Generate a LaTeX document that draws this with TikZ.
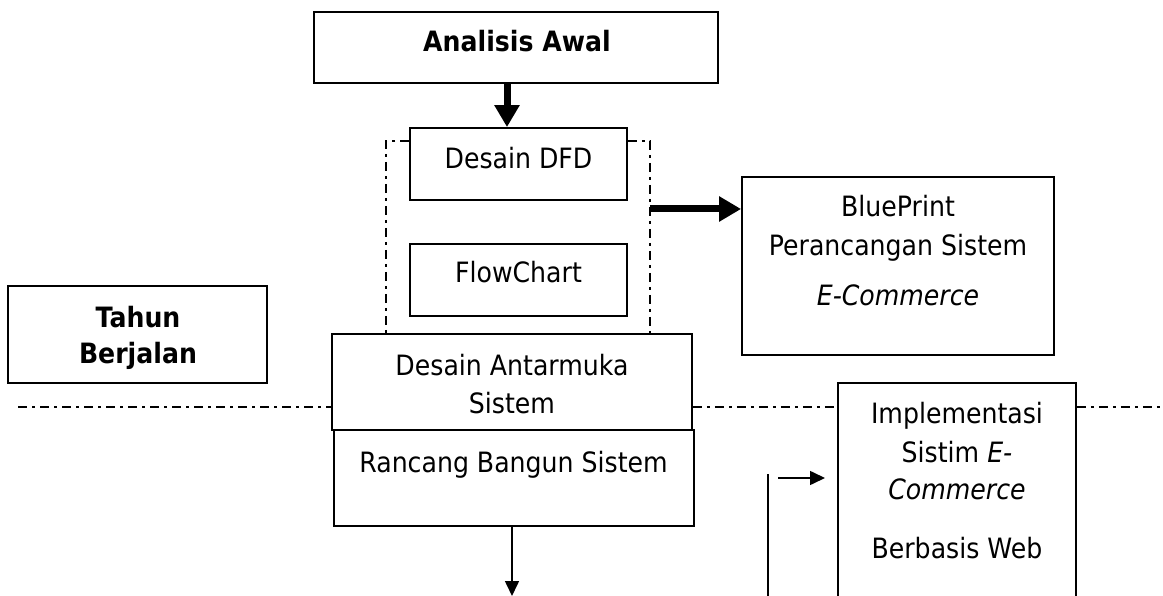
\documentclass[tikz,border=0pt]{standalone}
\usepackage{fontspec}
\setmainfont[FakeStretch=0.9]{DejaVu Sans}
\usetikzlibrary{arrows.meta}
\begin{document}
\begin{tikzpicture}[x=1pt,y=-1pt,
  box/.style={draw, line width=1.8pt, inner sep=0pt},
  txt/.style={anchor=base, inner sep=0pt, font=\fontsize{28}{34}\selectfont},
  btxt/.style={anchor=base, inner sep=0pt, font=\fontsize{28}{34}\selectfont\bfseries},
  bigarrow/.style={line width=7pt, -{Triangle[length=22pt,width=24pt]}},
  smallarrow/.style={line width=1.6pt, -{Triangle[length=15pt,width=14pt]}},
  dashdot/.style={line width=1.6pt, dash pattern=on 9pt off 5pt on 3pt off 5pt}]
\useasboundingbox[fill=white] (0,0) rectangle (1163,596);
\clip (0,0) rectangle (1163,596);

% boxes
\node[box, minimum width=404pt, minimum height=71pt] (awal) at (516,47.5) {};
\node[box, minimum width=217pt, minimum height=72pt] (dfd) at (518.5,164) {};
\node[box, minimum width=217pt, minimum height=72pt] (flow) at (518.5,280) {};
\node[box, minimum width=312pt, minimum height=178pt] (blue) at (898,266) {};
\node[box, minimum width=259pt, minimum height=97pt] (tahun) at (137.5,334.5) {};
\node[box, minimum width=360pt, minimum height=96pt] (anta) at (512,382) {};
\node[box, minimum width=360pt, minimum height=96pt] (rancang) at (514,478) {};
\node[box, minimum width=238pt, minimum height=237pt] (impl) at (957,501.5) {};

% texts
\node[btxt] (tawal) at (517,52) {Analisis Awal};
\node[txt] (tdfd) at (518.5,169) {Desain DFD};
\node[txt] (tflow) at (518.5,283) {FlowChart};
\node[txt] (tblue1) at (898,217) {BluePrint};
\node[txt] (tblue2) at (898,256) {Perancangan Sistem};
\node[txt] (tblue3) at (898,306) {\itshape E-Commerce};
\node[btxt] (ttahun1) at (138,327) {Tahun};
\node[btxt] (ttahun2) at (138,363) {Berjalan};
\node[txt] (tanta1) at (512,375) {Desain Antarmuka};
\node[txt] (tanta2) at (512,413) {Sistem};
\node[txt] (trancang) at (513.5,472) {Rancang Bangun Sistem};
\node[txt] (timpl1) at (957,423) {Implementasi};
\node[txt] (timpl2) at (957,462) {Sistim \textit{E-}};
\node[txt] (timpl3) at (957,499) {\itshape Commerce};
\node[txt] (timpl4) at (957,558) {Berbasis Web};

% dash-dot group around DFD / FlowChart
\coordinate (gl) at (386,141);
\coordinate (gr) at (650,141);
\draw[dashdot] (gl -| dfd.west) -- (gl) -- (gl |- anta.north);
\draw[dashdot] (gr -| dfd.east) -- (gr) -- (gr |- anta.north);

% horizontal dash-dot line
\coordinate (hl) at (18,407);
\coordinate (hr) at (1163,407);
\draw[dashdot] (hl) -- (hl -| anta.west);
\draw[dashdot] (hl -| anta.east) -- (hl -| impl.west);
\draw[dashdot] (hl -| impl.east) -- (hr);

% arrows
\coordinate (a1) at (507,83);
\draw[bigarrow] (a1) -- (a1 |- dfd.north);
\coordinate (gout) at (650,209);
\draw[bigarrow] (gout) -- (gout -| blue.west);
\coordinate (down) at (512,596);
\draw[smallarrow] (down |- rancang.south) -- (down);
\coordinate (sa) at (778,478);
\coordinate (sb) at (825,478);
\draw[smallarrow] (sa) -- (sb);
\coordinate (vt) at (768,474);
\coordinate (vb) at (768,596);
\draw[line width=1.6pt] (vt) -- (vb);
\end{tikzpicture}
\end{document}
